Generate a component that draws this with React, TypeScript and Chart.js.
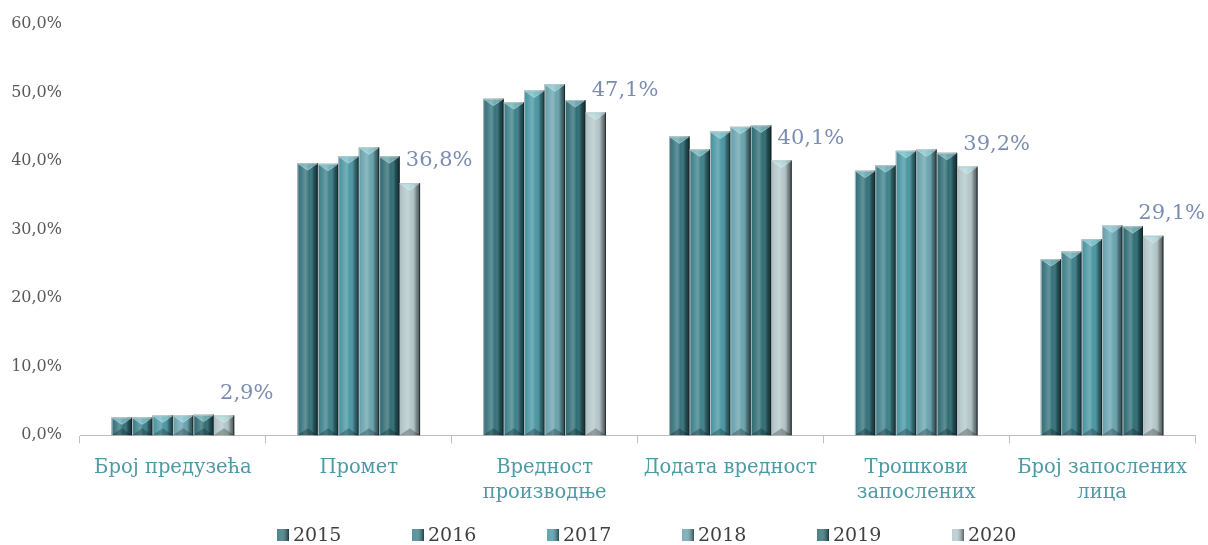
import React, { useEffect, useRef } from "react";
import { Chart, registerables } from "chart.js";

Chart.register(...registerables);

const categories: (string | string[])[] = [
  "Број предузећа",
  "Промет",
  ["Вредност", "производње"],
  "Додата вредност",
  ["Трошкови", "запослених"],
  ["Број запослених", "лица"],
];

const years = ["2015", "2016", "2017", "2018", "2019", "2020"];

const v2015 = [2.6, 39.7, 49.1, 43.6, 38.6, 25.7];
const v2016 = [2.6, 39.6, 48.6, 41.7, 39.4, 26.8];
const v2017 = [2.9, 40.7, 50.3, 44.3, 41.5, 28.6];
const v2018 = [2.9, 42.0, 51.2, 45.0, 41.7, 30.6];
const v2019 = [3.0, 40.7, 48.9, 45.2, 41.2, 30.5];
const v2020 = [2.9, 36.8, 47.1, 40.1, 39.2, 29.1];

const seriesValues = [v2015, v2016, v2017, v2018, v2019, v2020];
const seriesColors = ["#33717a", "#3c808a", "#4896a2", "#68a3ae", "#2e6c74", "#b3c6ca"];

const yTicks = [0, 10, 20, 30, 40, 50, 60];

const FONT = "'DejaVu Serif', serif";

const fmt = (v: number, d: number) => v.toFixed(d).replace(".", ",") + "%";

const bevelPlugin = {
  id: "bevel",
  afterDatasetsDraw(chart: any) {
    const ctx = chart.ctx as CanvasRenderingContext2D;
    chart.data.datasets.forEach((_ds: any, i: number) => {
      const meta = chart.getDatasetMeta(i);
      if (meta.hidden) return;
      meta.data.forEach((bar: any) => {
        const { x, y, base, width } = bar.getProps(["x", "y", "base", "width"], true);
        const l = x - width / 2;
        const r = x + width / 2;
        const h = base - y;
        const d = Math.min(7, h / 2);
        ctx.save();
        const g = ctx.createLinearGradient(l, 0, r, 0);
        g.addColorStop(0, "rgba(0,0,0,0.12)");
        g.addColorStop(0.15, "rgba(255,255,255,0.06)");
        g.addColorStop(0.4, "rgba(255,255,255,0.24)");
        g.addColorStop(0.58, "rgba(255,255,255,0.0)");
        g.addColorStop(0.8, "rgba(0,0,0,0.28)");
        g.addColorStop(1, "rgba(0,0,0,0.6)");
        ctx.fillStyle = g;
        ctx.fillRect(l, y, width, h);
        // top facet
        ctx.beginPath();
        ctx.moveTo(l, y);
        ctx.lineTo(r, y);
        ctx.lineTo(x, y + d);
        ctx.closePath();
        ctx.fillStyle = "rgba(180,240,245,0.45)";
        ctx.fill();
        // bottom facet
        ctx.beginPath();
        ctx.moveTo(l, base);
        ctx.lineTo(r, base);
        ctx.lineTo(x, base - d);
        ctx.closePath();
        ctx.fillStyle = "rgba(0,0,0,0.25)";
        ctx.fill();
        // facet edges
        ctx.lineWidth = 1;
        ctx.strokeStyle = "rgba(255,255,255,0.35)";
        ctx.beginPath();
        ctx.moveTo(l + 0.5, y + 0.5);
        ctx.lineTo(x, y + d);
        ctx.lineTo(r - 0.5, y + 0.5);
        ctx.stroke();
        // light left edge, dark right edge
        ctx.strokeStyle = "rgba(190,196,198,0.9)";
        ctx.beginPath();
        ctx.moveTo(l + 0.5, y);
        ctx.lineTo(l + 0.5, base);
        ctx.moveTo(l, y + 0.5);
        ctx.lineTo(r, y + 0.5);
        ctx.stroke();
        ctx.strokeStyle = "rgba(20,30,32,0.7)";
        ctx.beginPath();
        ctx.moveTo(r - 0.5, y);
        ctx.lineTo(r - 0.5, base);
        ctx.stroke();
        ctx.restore();
      });
    });

    // data labels for last series
    const last = chart.data.datasets.length - 1;
    const meta = chart.getDatasetMeta(last);
    const vals = chart.data.datasets[last].data as number[];
    ctx.save();
    ctx.font = `21px ${FONT}`;
    ctx.fillStyle = "#7d8db0";
    ctx.textAlign = "left";
    ctx.textBaseline = "middle";
    meta.data.forEach((bar: any, j: number) => {
      const { x, y } = bar.getProps(["x", "y"], true);
      const txt = fmt(vals[j], 1);
      const tw = ctx.measureText(txt).width;
      const tx = Math.min(x - 4, chart.width - 3 - tw);
      ctx.fillText(txt, tx, y - 22);
    });
    ctx.restore();

    // custom legend
    const stride = 135;
    const startX = 277;
    const ly = 535;
    ctx.save();
    ctx.font = `19px ${FONT}`;
    ctx.textAlign = "left";
    ctx.textBaseline = "middle";
    years.forEach((yr, k) => {
      const bx = startX + k * stride;
      ctx.fillStyle = seriesColors[k];
      ctx.fillRect(bx, ly - 6, 12, 12);
      const g = ctx.createLinearGradient(bx, 0, bx + 12, 0);
      g.addColorStop(0, "rgba(255,255,255,0.15)");
      g.addColorStop(0.4, "rgba(255,255,255,0.2)");
      g.addColorStop(1, "rgba(0,0,0,0.5)");
      ctx.fillStyle = g;
      ctx.fillRect(bx, ly - 6, 12, 12);
      ctx.fillStyle = "#404040";
      ctx.fillText(yr, bx + 16, ly + 1);
    });
    ctx.restore();
  },
};

export default function App() {
  const ref = useRef<HTMLCanvasElement | null>(null);
  useEffect(() => {
    if (!ref.current) return;
    const chart = new Chart(ref.current, {
      type: "bar",
      data: {
        labels: categories,
        datasets: years.map((yr, i) => ({
          label: yr,
          data: seriesValues[i],
          backgroundColor: seriesColors[i],
          borderWidth: 0,
          barPercentage: 1,
          categoryPercentage: 0.66,
        })),
      },
      options: {
        responsive: false,
        animation: false,
        layout: { padding: { left: 10, right: 13, top: 24, bottom: 27 } },
        plugins: {
          legend: { display: false },
          tooltip: { enabled: false },
        },
        scales: {
          x: {
            grid: {
              display: true,
              offset: true,
              drawOnChartArea: false,
              tickLength: 8,
              color: "#bfbfbf",
            },
            border: { display: true, color: "#bfbfbf" },
            ticks: {
              color: "#4e9aa5",
              font: { family: FONT, size: 19.5, lineHeight: 1.3 },
              maxRotation: 0,
              autoSkip: false,
              padding: 12,
            },
          },
          y: {
            min: 0,
            max: 60,
            afterBuildTicks: (axis: any) => {
              axis.ticks = yTicks.map((v) => ({ value: v }));
            },
            afterFit: (axis: any) => {
              axis.width = 70;
              axis.paddingTop = 0;
              axis.paddingBottom = 0;
            },
            grid: { display: false, drawTicks: false },
            border: { display: false },
            ticks: {
              color: "#595959",
              font: { family: FONT, size: 16 },
              padding: 18,
              callback: (v: any) => fmt(Number(v), 1),
            },
          },
        },
      },
      plugins: [bevelPlugin],
    });
    return () => chart.destroy();
  }, []);
  return (
    <div style={{ position: "absolute", left: 0, top: 0, width: 1208, height: 545, background: "#fff" }}>
      <canvas ref={ref} width={1208} height={545} style={{ display: "block" }} />
    </div>
  );
}
